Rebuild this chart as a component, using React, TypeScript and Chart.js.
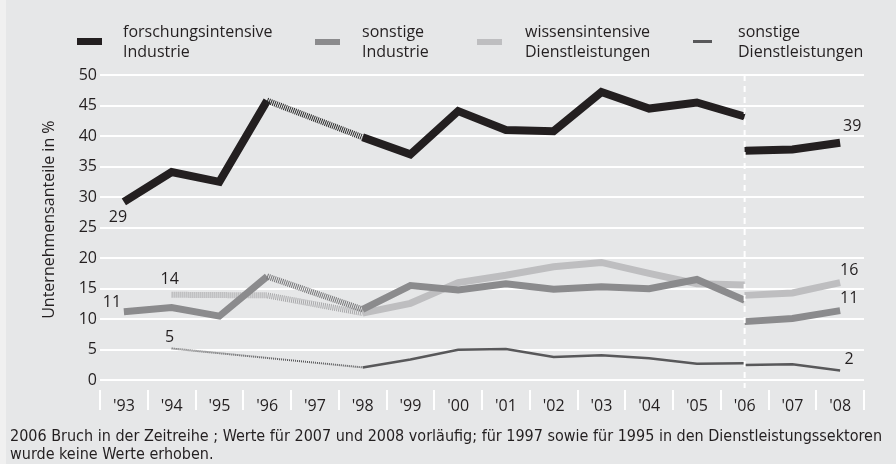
import React, { useEffect, useRef } from "react";
import { Chart, registerables } from "chart.js";
Chart.register(...registerables);

const years = ["'93", "'94", "'95", "'96", "'97", "'98", "'99", "'00", "'01", "'02", "'03", "'04", "'05", "'06", "'07", "'08"];
const breakYear = "'06";

// values 1993–2006 (old series) and 2006–2008 (new series)
const forschAlt = [29.2, 34.1, 32.5, 45.8, null, 39.8, 37.0, 44.1, 41.0, 40.8, 47.2, 44.5, 45.5, 43.2];
const forschNeu = [37.6, 37.8, 38.9];
const sonstIndAlt = [11.2, 11.9, 10.5, 17.0, null, 11.6, 15.5, 14.8, 15.8, 14.9, 15.3, 15.0, 16.5, 13.1];
const sonstIndNeu = [9.6, 10.1, 11.4];
const wissDLAlt = [null, 14.0, null, 13.9, null, 11.0, 12.6, 16.0, 17.2, 18.6, 19.3, 17.5, 15.8, 15.6];
const wissDLNeu = [13.9, 14.3, 16.0];
const sonstDLAlt = [null, 5.2, null, null, null, 2.1, 3.4, 5.0, 5.1, 3.8, 4.1, 3.6, 2.7, 2.8];
const sonstDLNeu = [2.5, 2.6, 1.6];

const yTickValues = [0, 5, 10, 15, 20, 25, 30, 35, 40, 45, 50];
const seriesNames = [
  ["forschungsintensive", "Industrie"],
  ["sonstige", "Industrie"],
  ["wissensintensive", "Dienstleistungen"],
  ["sonstige", "Dienstleistungen"],
];
const yTitle = "Unternehmensanteile in %";
const footnote = [
  "2006 Bruch in der Zeitreihe ; Werte für 2007 und 2008 vorläufig; für 1997 sowie für 1995 in den Dienstleistungssektoren",
  "wurde keine Werte erhoben.",
];

const FONT = "'Open Sans', sans-serif";
const TEXT = "#231f20";

const padOld = (a: (number | null)[]) => years.map((_, i) => (i < a.length ? a[i] : null));
const padNew = (a: number[]) => {
  const start = years.indexOf(breakYear);
  return years.map((_, i) => (i >= start ? a[i - start] : null));
};

const gap = (ctx: any) => ctx.p0.skip || ctx.p1.skip;
const seg = (color: string, width: number, dash: number[]) => ({
  borderColor: (ctx: any) => (gap(ctx) ? color : undefined),
  borderWidth: (ctx: any) => (gap(ctx) ? width : undefined),
  borderDash: (ctx: any) => (gap(ctx) ? dash : undefined),
});

const styles = [
  { color: TEXT, width: 8, hatch: "#2a2a2a", hatchW: 6, dash: [1, 1] },
  { color: "#8b8b8d", width: 7, hatch: "#767678", hatchW: 6, dash: [1, 1] },
  { color: "#bebec0", width: 7, hatch: "#a8a8aa", hatchW: 6, dash: [1, 1] },
  { color: "#58585a", width: 2.5, hatch: "#58585a", hatchW: 2, dash: [1, 1] },
];

const olds = [forschAlt, sonstIndAlt, wissDLAlt, sonstDLAlt];
const news = [forschNeu, sonstIndNeu, wissDLNeu, sonstDLNeu];

function makeDatasets() {
  const ds: any[] = [];
  olds.forEach((arr, k) => {
    const s = styles[k];
    ds.push({
      label: seriesNames[k].join(" "),
      data: padOld(arr),
      borderColor: s.color,
      borderWidth: s.width,
      borderJoinStyle: "miter",
      borderCapStyle: "butt",
      pointRadius: 0,
      spanGaps: true,
      tension: 0,
      segment: seg(s.hatch, s.hatchW, s.dash),
    });
  });
  news.forEach((arr, k) => {
    const s = styles[k];
    ds.push({
      label: seriesNames[k].join(" ") + " (neu)",
      data: padNew(arr),
      borderColor: s.color,
      borderWidth: s.width,
      borderJoinStyle: "miter",
      borderCapStyle: "butt",
      pointRadius: 0,
      spanGaps: true,
      tension: 0,
    });
  });
  // reorder so that black is drawn on top: dataset 0 drawn last
  return ds;
}

// value labels: dataset index, category index, offset
const valueLabels = [
  { ds: 0, idx: 0, dx: -6, dy: 15 },
  { ds: 1, idx: 0, dx: -12, dy: -9 },
  { ds: 2, idx: 1, dx: -2, dy: -15 },
  { ds: 3, idx: 1, dx: -2, dy: -11 },
  { ds: 4, idx: 15, dx: 12, dy: -16 },
  { ds: 6, idx: 15, dx: 9, dy: -12 },
  { ds: 5, idx: 15, dx: 9, dy: -12 },
  { ds: 7, idx: 15, dx: 9, dy: -11 },
];

const overlayPlugin = {
  id: "overlay",
  afterDatasetsDraw(chart: any) {
    const { ctx, chartArea, scales } = chart;
    const x = scales.x.getPixelForValue(years.indexOf(breakYear));
    ctx.save();
    ctx.strokeStyle = "#ffffff";
    ctx.lineWidth = 2;
    ctx.setLineDash([6, 5]);
    ctx.beginPath();
    ctx.moveTo(x, chartArea.top);
    ctx.lineTo(x, chartArea.bottom - 2);
    ctx.stroke();
    ctx.restore();

    ctx.save();
    ctx.fillStyle = TEXT;
    ctx.font = `16px ${FONT}`;
    ctx.textAlign = "center";
    ctx.textBaseline = "middle";
    valueLabels.forEach((l) => {
      const meta = chart.getDatasetMeta(l.ds);
      const pt = meta.data[l.idx];
      const v = chart.data.datasets[l.ds].data[l.idx];
      if (!pt || v == null) return;
      ctx.fillText(String(Math.round(v)), pt.x + l.dx, pt.y + l.dy);
    });
    ctx.restore();

    // y-axis title
    ctx.save();
    ctx.fillStyle = TEXT;
    ctx.font = `16px ${FONT}`;
    ctx.textAlign = "center";
    ctx.textBaseline = "middle";
    ctx.translate(49, (chartArea.top + scales.y.getPixelForValue(0)) / 2 - 8);
    ctx.rotate(-Math.PI / 2);
    ctx.fillText(yTitle, 0, 0);
    ctx.restore();
  },
};

const legendItems = [
  { swatchX: 77, swatchW: 25, swatchTop: 38, swatchH: 7, textX: 123 },
  { swatchX: 315, swatchW: 25, swatchTop: 38.5, swatchH: 6.5, textX: 362 },
  { swatchX: 477, swatchW: 25, swatchTop: 38.5, swatchH: 6.5, textX: 525 },
  { swatchX: 693, swatchW: 19, swatchTop: 40, swatchH: 2.5, textX: 738 },
];

export default function App() {
  const ref = useRef<HTMLCanvasElement>(null);
  useEffect(() => {
    Chart.defaults.font.family = FONT;
    const chart = new Chart(ref.current as HTMLCanvasElement, {
      type: "line",
      data: { labels: years, datasets: makeDatasets() },
      options: {
        responsive: false,
        animation: false,
        layout: { padding: { top: 75, right: 32, bottom: 38, left: 0 } },
        plugins: { legend: { display: false }, tooltip: { enabled: false } },
        scales: {
          x: {
            offset: true,
            border: { display: false },
            grid: {
              offset: true,
              drawOnChartArea: false,
              drawTicks: true,
              tickLength: 20,
              color: "#ffffff",
              lineWidth: 2,
            },
            ticks: {
              color: TEXT,
              font: { size: 16, family: FONT },
              padding: -13,
              maxRotation: 0,
              autoSkip: false,
            },
            afterFit: (s: any) => {
              s.height = 36;
            },
          },
          y: {
            min: -1.6,
            max: 50,
            border: { display: false },
            grid: { color: "#ffffff", lineWidth: 2, drawTicks: false },
            afterBuildTicks: (s: any) => {
              s.ticks = yTickValues.map((v) => ({ value: v }));
            },
            ticks: {
              color: TEXT,
              font: { size: 16, family: FONT },
              padding: 3,
            },
            afterFit: (s: any) => {
              s.width = 100;
            },
          },
        },
      },
      plugins: [overlayPlugin],
    } as any);
    return () => chart.destroy();
  }, []);

  return (
    <div style={{ position: "absolute", left: 0, top: 0, width: 896, height: 464, background: "#f0f0f0", overflow: "hidden", fontFamily: FONT, color: TEXT }}>
      <div style={{ position: "absolute", left: 6, top: 0, right: 0, bottom: 0, background: "#e6e7e8" }} />
      <canvas ref={ref} width={896} height={464} style={{ position: "absolute", left: 0, top: 0, width: 896, height: 464 }} />
      {legendItems.map((it, k) => (
        <React.Fragment key={k}>
          <div style={{ position: "absolute", left: it.swatchX, top: it.swatchTop, width: it.swatchW, height: it.swatchH, background: styles[k].color }} />
          <div style={{ position: "absolute", left: it.textX, top: 21, fontSize: 16, lineHeight: "20px", whiteSpace: "nowrap" }}>
            {seriesNames[k][0]}
            <br />
            {seriesNames[k][1]}
          </div>
        </React.Fragment>
      ))}
      <div style={{ position: "absolute", left: 10, top: 427, fontSize: 16, lineHeight: "18px", whiteSpace: "nowrap", fontFamily: "'Liberation Sans Narrow', 'DejaVu Sans Condensed', sans-serif" }}>
        {footnote[0]}
        <br />
        {footnote[1]}
      </div>
    </div>
  );
}
